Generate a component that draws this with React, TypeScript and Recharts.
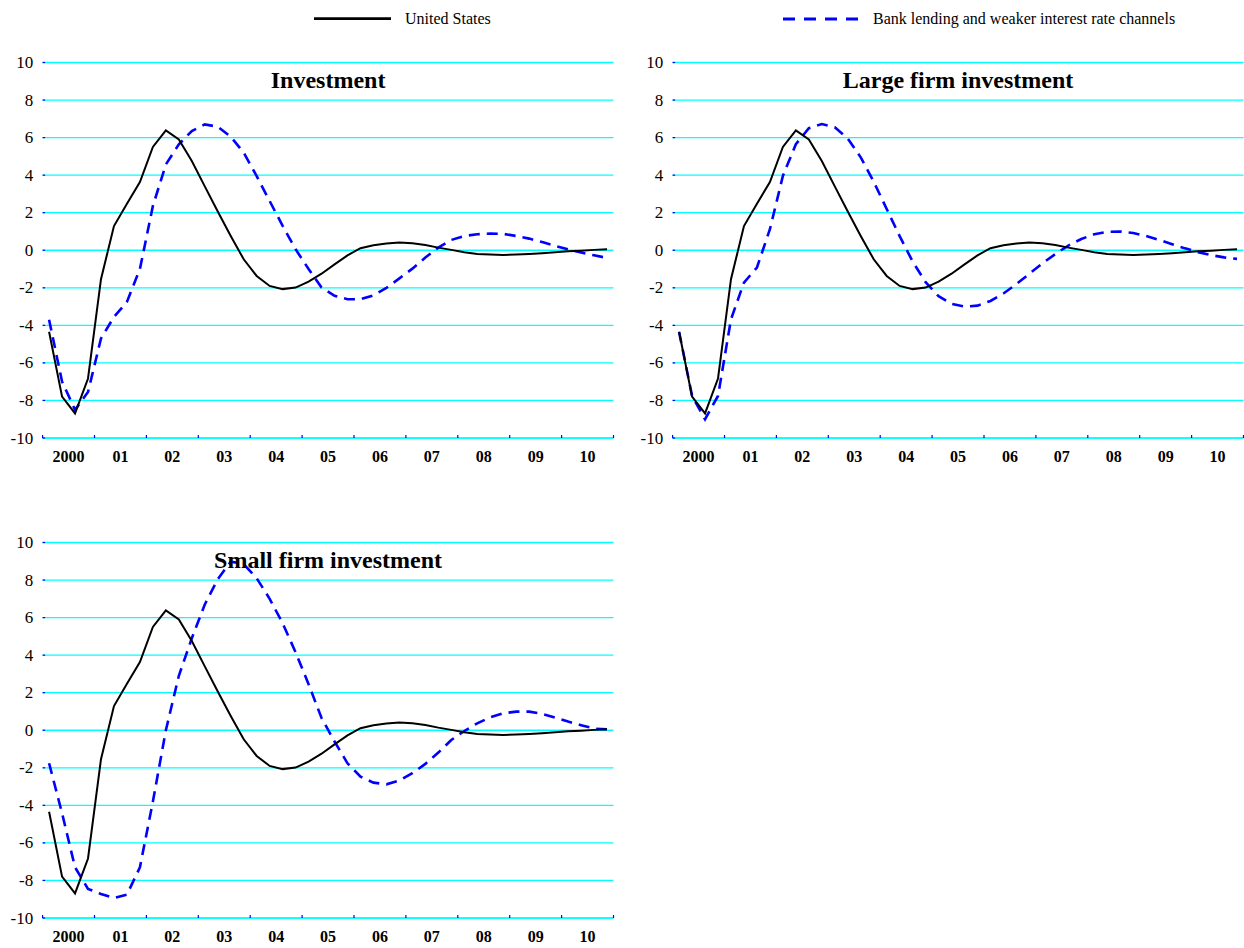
import React from 'react';
import { LineChart, Line, XAxis, YAxis, CartesianGrid } from 'recharts';

// quarterly responses, 2000Q1 .. 2010Q4 (44 quarters)
const usResponse = [
  -4.34, -7.8, -8.69, -6.83, -1.54, 1.29, 2.48, 3.63, 5.5, 6.38, 5.9,
  4.75, 3.4, 2.06, 0.76, -0.48, -1.37, -1.9, -2.07, -1.99, -1.67, -1.25,
  -0.75, -0.27, 0.11, 0.27, 0.36, 0.41, 0.37, 0.28, 0.14, 0.02, -0.11,
  -0.2, -0.23, -0.25, -0.23, -0.2, -0.16, -0.11, -0.05, -0.02, 0.02, 0.05,
];

const investmentBank = [
  -3.7, -7.0, -8.5, -7.55, -4.7, -3.55, -2.75, -1.0, 2.36, 4.57, 5.64,
  6.35, 6.7, 6.58, 6.05, 5.2, 3.95, 2.62, 1.3, 0.05, -1.0, -1.98,
  -2.43, -2.61, -2.61, -2.4, -2.0, -1.5, -0.98, -0.39, 0.14, 0.55, 0.76,
  0.85, 0.89, 0.87, 0.76, 0.62, 0.44, 0.23, 0.05, -0.12, -0.27, -0.41,
];

const largeFirmBank = [
  -4.35, -7.76, -9.0, -7.76, -3.68, -1.72, -0.92, 1.12, 3.96, 5.65, 6.5,
  6.72, 6.55, 5.95, 4.95, 3.65, 2.2, 0.75, -0.6, -1.7, -2.45, -2.85,
  -3.0, -2.95, -2.7, -2.3, -1.8, -1.25, -0.7, -0.2, 0.25, 0.6, 0.85,
  0.98, 1.0, 0.92, 0.76, 0.55, 0.32, 0.1, -0.1, -0.26, -0.38, -0.46,
];

const smallFirmBank = [
  -1.76, -4.42, -7.3, -8.45, -8.72, -8.94, -8.75, -7.3, -3.8, 0.0, 2.9,
  4.9, 6.7, 8.05, 8.98, 8.85, 8.1, 7.0, 5.7, 4.15, 2.45, 0.65,
  -0.6, -1.76, -2.47, -2.79, -2.88, -2.68, -2.29, -1.79, -1.19, -0.52, -0.04,
  0.37, 0.69, 0.9, 0.99, 0.99, 0.87, 0.67, 0.46, 0.27, 0.09, 0.05,
];

const yearLabels = ['2000', '01', '02', '03', '04', '05', '06', '07', '08', '09', '10'];
const yTicks = [-10, -8, -6, -4, -2, 0, 2, 4, 6, 8, 10];
const quarterTicks = yearLabels.map((_, i) => i * 4).concat([yearLabels.length * 4]);

const FONT = '"Liberation Serif", "Times New Roman", serif';
const CYAN = '#00FFFF';
const BLUE = '#0000FF';

const CHART_W = 620;
const CHART_H = 470;
const Y_AXIS_W = 42.6;
const RIGHT_M = 6.5;
const TOP_M = 62.5;
const X_AXIS_H = 32;
const PLOT_W = CHART_W - Y_AXIS_W - RIGHT_M;
const YEAR_PX = PLOT_W / yearLabels.length;

const buildRows = (bank: number[]) =>
  usResponse.map((v, i) => ({ q: i + 0.5, us: v, bank: bank[i] }));

const XTick = (props: any) => {
  const { x, y, payload } = props;
  const idx = payload.value / 4;
  return (
    <g>
      <line x1={x} y1={y} x2={x} y2={y - 3} stroke={BLUE} strokeWidth={1.2} />
      {idx < yearLabels.length && (
        <text
          x={x + YEAR_PX / 2}
          y={y + 23.5}
          textAnchor="middle"
          fontFamily={FONT}
          fontWeight="bold"
          fontSize={16}
          fill="#000"
        >
          {yearLabels[idx]}
        </text>
      )}
    </g>
  );
};

const YTick = (props: any) => {
  const { x, y, payload } = props;
  return (
    <g>
      <line x1={x} y1={y} x2={x + 2.5} y2={y} stroke={BLUE} strokeWidth={1.2} />
      <text
        x={x - 9.4}
        y={y}
        textAnchor="end"
        dominantBaseline="central"
        fontFamily={FONT}
        fontSize={17}
        fill="#000"
      >
        {payload.value}
      </text>
    </g>
  );
};

interface PanelProps {
  title: string;
  bank: number[];
  left: number;
  top: number;
}

const Panel: React.FC<PanelProps> = ({ title, bank, left, top }) => {
  const data = buildRows(bank);
  return (
    <div style={{ position: 'absolute', left, top, width: CHART_W, height: CHART_H }}>
      <LineChart
        width={CHART_W}
        height={CHART_H}
        data={data}
        margin={{ top: TOP_M, right: RIGHT_M, bottom: 0, left: 0 }}
      >
        <CartesianGrid vertical={false} stroke={CYAN} strokeWidth={1.3} />
        <XAxis
          type="number"
          dataKey="q"
          domain={[0, 44]}
          ticks={quarterTicks}
          interval={0}
          height={X_AXIS_H}
          tickSize={0}
          tickMargin={0}
          tickLine={false}
          axisLine={{ stroke: CYAN, strokeWidth: 1.5 }}
          tick={<XTick />}
        />
        <YAxis
          type="number"
          domain={[-10, 10]}
          ticks={yTicks}
          interval={0}
          width={Y_AXIS_W}
          tickSize={0}
          tickMargin={0}
          tickLine={false}
          axisLine={false}
          tick={<YTick />}
        />
        <Line
          type="linear"
          dataKey="bank"
          stroke={BLUE}
          strokeWidth={2.6}
          strokeDasharray="11 7"
          dot={false}
          isAnimationActive={false}
        />
        <Line
          type="linear"
          dataKey="us"
          stroke="#000"
          strokeWidth={2}
          dot={false}
          isAnimationActive={false}
        />
      </LineChart>
      <svg
        width={CHART_W}
        height={100}
        style={{ position: 'absolute', left: 0, top: 0, pointerEvents: 'none' }}
      >
        <text
          x={Y_AXIS_W + PLOT_W / 2}
          y={88.3}
          textAnchor="middle"
          fontFamily={FONT}
          fontWeight="bold"
          fontSize={24}
          fill="#000"
        >
          {title}
        </text>
      </svg>
    </div>
  );
};

const App: React.FC = () => {
  return (
    <div
      style={{
        position: 'absolute',
        left: 0,
        top: 0,
        width: 1244,
        height: 948,
        overflow: 'hidden',
        background: '#fff',
        fontFamily: FONT,
      }}
    >
      <svg width={1244} height={40} style={{ position: 'absolute', left: 0, top: 0 }}>
        <line x1={314} y1={18.6} x2={391} y2={18.6} stroke="#000" strokeWidth={2.6} />
        <text x={405} y={23.8} fontFamily={FONT} fontSize={16} fill="#000">
          United States
        </text>
        <line
          x1={783}
          y1={19}
          x2={860}
          y2={19}
          stroke={BLUE}
          strokeWidth={3}
          strokeDasharray="12 9"
        />
        <text x={873} y={24.3} fontFamily={FONT} fontSize={16} fill="#000">
          Bank lending and weaker interest rate channels
        </text>
      </svg>
      <Panel title="Investment" bank={investmentBank} left={0} top={0} />
      <Panel title="Large firm investment" bank={largeFirmBank} left={630} top={0} />
      <Panel title="Small firm investment" bank={smallFirmBank} left={0} top={480} />
    </div>
  );
};

export default App;
